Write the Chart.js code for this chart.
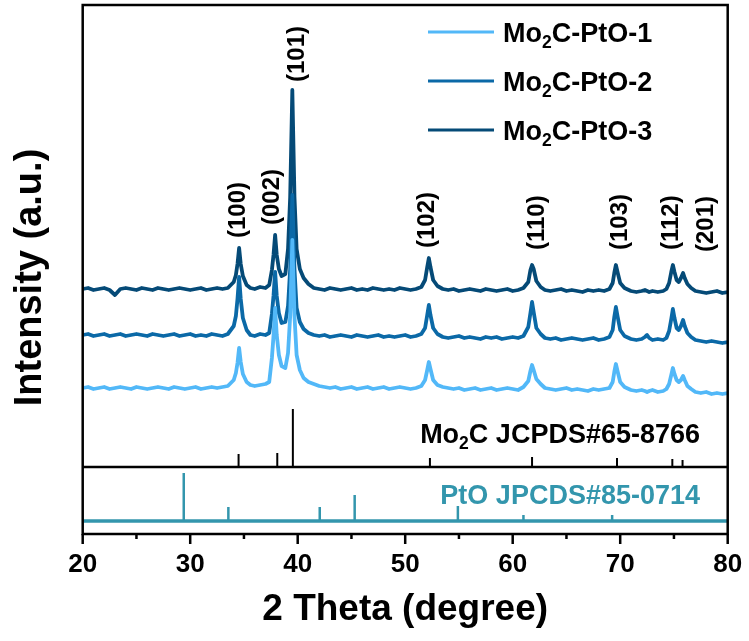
<!DOCTYPE html>
<html>
<head>
<meta charset="utf-8">
<title>XRD Mo2C-PtO</title>
<script src="https://cdn.jsdelivr.net/npm/chart.js@4.4.1/dist/chart.umd.min.js"></script>
<style>
  html, body { margin: 0; padding: 0; background: #fff; }
  canvas { display: block; }
</style>
</head>
<body>
<canvas id="xrdChart" width="749" height="641"></canvas>
<script>
// 2 theta grid shared by the three patterns
const twoTheta = [
  20, 20.5, 21, 21.5, 22, 22.5, 23, 23.5, 24, 24.5, 25, 25.5, 26, 26.5, 27, 27.5, 28, 28.5, 29, 29.5, 30, 30.5, 31, 31.5, 32, 32.5, 33, 33.5,
  34.05, 34.25, 34.4, 34.55, 34.7, 34.9, 35.25,
  35.6, 36, 36.5, 37, 37.35,
  37.6, 37.75, 37.9, 38.05, 38.25, 38.5, 38.85, 39.1, 39.3, 39.5, 39.7, 39.9, 40.2, 40.55, 41,
  41.5, 42, 42.5, 43, 43.5, 44, 44.5, 45, 45.5, 46, 46.5, 47, 47.5, 48, 48.5, 49, 49.5, 50, 50.5, 51, 51.5,
  51.85, 52.05, 52.2, 52.35, 52.6, 53,
  53.5, 54, 54.5, 55, 55.5, 56, 56.5, 57, 57.5, 58, 58.5, 59, 59.5, 60, 60.5, 61,
  61.45, 61.65, 61.8, 61.95, 62.2, 62.6,
  63, 63.5, 64, 64.5, 65, 65.5, 66, 66.5, 67, 67.5, 68, 68.5, 69,
  69.3, 69.45, 69.6, 69.75, 70, 70.4,
  71, 71.5, 72, 72.3, 72.5, 72.7, 73, 73.5, 74, 74.3,
  74.55, 74.75, 74.9, 75.05, 75.25, 75.45, 75.65, 75.85, 76, 76.25, 76.6,
  77, 77.5, 78, 78.5, 79, 79.5, 80
];

// intensities (a.u., already stacked)
const pto1 = [
  146, 147, 145, 146, 147, 145, 146, 147, 146, 145, 147, 146, 145, 146, 147, 146, 145, 147, 146, 145, 146, 147, 145, 146, 147, 146, 147, 148,
  154, 161, 171, 186, 172, 160, 152,
  149, 148, 149, 150, 152,
  176, 198, 226, 199, 179, 168, 166, 181, 218, 294, 218, 179, 164, 156, 152,
  150, 148, 147, 146, 147, 145, 146, 147, 145, 146, 147, 145, 146, 147, 145, 146, 147, 146, 145, 146, 148,
  154, 164, 172, 165, 154, 149,
  147, 146, 145, 146, 144, 145, 146, 144, 145, 146, 144, 145, 146, 145, 144, 147,
  153, 163, 169, 164, 155, 150,
  146, 145, 144, 145, 146, 144, 145, 144, 143, 145, 144, 145, 146,
  152, 162, 170, 163, 152, 147,
  144, 143, 144, 143, 142, 143, 144, 142, 143, 145,
  150, 159, 166, 160, 154, 152, 154, 158, 154, 148, 145,
  142, 141, 142, 140, 141, 140, 141
];
const pto2 = [
  199, 200, 198, 199, 200, 198, 199, 200, 198, 199, 200, 199, 198, 200, 199, 198, 199, 200, 198, 199, 200, 198, 199, 198, 200, 199, 198, 200,
  208, 218, 235, 257, 235, 216, 204,
  199, 198, 200, 199, 201,
  220, 238, 262, 238, 221, 211, 212, 228, 265, 339, 265, 226, 212, 205, 201,
  199, 198, 199, 197, 198, 199, 198, 197, 199, 198, 197, 198, 199, 197, 198, 197, 198, 199, 197, 198, 200,
  206, 219, 229, 219, 206, 200,
  197, 196, 197, 198, 196, 197, 196, 195, 197, 196, 197, 195, 196, 197, 196, 198,
  207, 221, 232, 222, 206, 200,
  196, 195, 196, 194, 195, 196, 195, 194, 195, 196, 194, 195, 197,
  204, 217, 227, 218, 204, 198,
  195, 194, 195, 197, 199, 196, 194, 195, 194, 196,
  203, 215, 225, 216, 206, 204, 208, 214, 208, 201, 197,
  194, 193, 192, 193, 192, 191, 192
];
const pto3 = [
  245, 246, 244, 245, 246, 244, 239, 245, 246, 245, 244, 246, 245, 244, 246, 245, 244, 245, 246, 245, 244, 245, 246, 244, 245, 246, 245, 246,
  252, 259, 270, 286, 270, 258, 249,
  246, 245, 247, 246, 249,
  264, 279, 299, 279, 265, 258, 260, 285, 337, 444, 337, 285, 265, 256, 250,
  246, 245, 244, 246, 245, 244, 245, 246, 244, 245, 244, 246, 245, 244, 245, 244, 246, 245, 244, 245, 247,
  254, 267, 276, 267, 254, 248,
  245, 244, 245, 243, 244, 245, 244, 243, 245, 244, 243, 244, 245, 243, 244, 246,
  252, 264, 269, 265, 253, 247,
  244, 243, 244, 245, 243, 244, 243, 242, 244, 243, 244, 243, 245,
  251, 261, 269, 262, 251, 246,
  243, 242, 243, 244, 243, 242, 243, 242, 243, 245,
  251, 262, 269, 262, 254, 252, 256, 261, 256, 250, 246,
  243, 242, 241, 242, 243, 241, 242
];

// reference cards
const mo2cPos = [34.5, 38.1, 39.55, 52.3, 61.8, 69.7, 74.85, 75.8];
const mo2cInt = [13, 14, 58, 9, 10, 9, 8, 7];
const ptoPos = [29.4, 33.55, 42.05, 45.3, 54.9, 61.0, 69.25];
const ptoInt = [48, 14, 14, 26, 15, 6, 6];
const mo2cBase = 67;
const ptoBase = 13;

// Miller indices
const hkl = ['(100)', '(002)', '(101)', '(102)', '(110)', '(103)', '(112)', '(201)'];
const hklX = [34.45, 37.6, 39.95, 52.1, 62.25, 70.05, 74.8, 78.05];
const hklY = [296, 309, 452, 286, 284, 284, 284, 282];

const xTicks = [20, 30, 40, 50, 60, 70, 80];

const FONT = "'Liberation Sans', Arial, sans-serif";
const colors = ['#52b8f8', '#0b69a7', '#054a77'];
const ptoColor = '#3396ad';
const legendParts = [
  [['Mo', false], ['2', true], ['C-PtO-1', false]],
  [['Mo', false], ['2', true], ['C-PtO-2', false]],
  [['Mo', false], ['2', true], ['C-PtO-3', false]]
];

const toPts = ys => twoTheta.map((x, i) => ({ x: x, y: ys[i] }));

function stickPts(pos, h, base) {
  const out = [];
  pos.forEach((x, i) => {
    out.push({ x: x, y: base }, { x: x, y: base + h[i] }, { x: x, y: null });
  });
  return out;
}

// text with subscripts
function drawRich(ctx, parts, x, y, size, align) {
  let w = 0;
  parts.forEach(p => {
    ctx.font = 'bold ' + (p[1] ? size * 0.65 : size) + 'px ' + FONT;
    w += ctx.measureText(p[0]).width;
  });
  let cx = align === 'right' ? x - w : x;
  parts.forEach(p => {
    ctx.font = 'bold ' + (p[1] ? size * 0.65 : size) + 'px ' + FONT;
    ctx.fillText(p[0], cx, p[1] ? y + size * 0.24 : y);
    cx += ctx.measureText(p[0]).width;
  });
}

const xrdDecor = {
  id: 'xrdDecor',
  afterDraw(chart) {
    const ctx = chart.ctx;
    const area = chart.chartArea;
    const xs = chart.scales.x;
    const ys = chart.scales.y;
    ctx.save();

    // frame + panel separator
    ctx.strokeStyle = '#000';
    ctx.lineWidth = 2.5;
    ctx.strokeRect(area.left, area.top, area.right - area.left, area.bottom - area.top);
    const sepY = ys.getPixelForValue(mo2cBase);
    ctx.beginPath();
    ctx.moveTo(area.left, sepY);
    ctx.lineTo(area.right, sepY);
    ctx.stroke();

    // outward ticks, minor every 5
    for (let v = 20; v <= 80; v += 5) {
      const px = xs.getPixelForValue(v);
      const len = v % 10 === 0 ? 10 : 5;
      ctx.beginPath();
      ctx.moveTo(px, area.bottom);
      ctx.lineTo(px, area.bottom + len);
      ctx.stroke();
    }

    // y title
    ctx.fillStyle = '#000';
    ctx.save();
    ctx.translate(area.left - 52, (area.top + area.bottom) / 2 + 8);
    ctx.rotate(-Math.PI / 2);
    ctx.textAlign = 'center';
    ctx.textBaseline = 'middle';
    ctx.font = 'bold 38px ' + FONT;
    ctx.fillText('Intensity (a.u.)', 0, 0);
    ctx.restore();

    // hkl labels
    ctx.font = 'bold 24px ' + FONT;
    hkl.forEach((t, i) => {
      ctx.save();
      ctx.translate(xs.getPixelForValue(hklX[i]), ys.getPixelForValue(hklY[i]));
      ctx.rotate(-Math.PI / 2);
      ctx.textAlign = 'left';
      ctx.textBaseline = 'middle';
      ctx.fillText(t, 0, 0);
      ctx.restore();
    });

    // legend
    ctx.textAlign = 'left';
    ctx.textBaseline = 'alphabetic';
    const rowY = [32, 81, 130];
    legendParts.forEach((parts, i) => {
      ctx.strokeStyle = colors[i];
      ctx.lineWidth = 3;
      ctx.beginPath();
      ctx.moveTo(428, rowY[i]);
      ctx.lineTo(494, rowY[i]);
      ctx.stroke();
      ctx.fillStyle = '#000';
      drawRich(ctx, parts, 503, rowY[i] + 10, 27, 'left');
    });

    // card labels
    ctx.fillStyle = '#000';
    drawRich(ctx, [['Mo', false], ['2', true], ['C JCPDS#65-8766', false]], 700, 443, 27, 'right');
    ctx.fillStyle = ptoColor;
    drawRich(ctx, [['PtO JPCDS#85-0714', false]], 700, 504, 27, 'right');

    ctx.restore();
  }
};

const lineStyle = { pointRadius: 0, borderWidth: 3.8, fill: false, tension: 0, borderJoinStyle: 'round' };

new Chart(document.getElementById('xrdChart'), {
  type: 'line',
  data: {
    datasets: [
      Object.assign({ label: 'Mo2C-PtO-1', data: toPts(pto1), borderColor: colors[0] }, lineStyle),
      Object.assign({ label: 'Mo2C-PtO-2', data: toPts(pto2), borderColor: colors[1] }, lineStyle),
      Object.assign({ label: 'Mo2C-PtO-3', data: toPts(pto3), borderColor: colors[2] }, lineStyle),
      { label: 'Mo2C card', data: stickPts(mo2cPos, mo2cInt, mo2cBase), borderColor: '#000', borderWidth: 2, pointRadius: 0, spanGaps: false },
      { label: 'PtO base', data: [{ x: 20, y: ptoBase }, { x: 80, y: ptoBase }], borderColor: ptoColor, borderWidth: 3.5, pointRadius: 0 },
      { label: 'PtO card', data: stickPts(ptoPos, ptoInt, ptoBase), borderColor: ptoColor, borderWidth: 2.5, pointRadius: 0, spanGaps: false }
    ]
  },
  options: {
    responsive: false,
    animation: false,
    events: [],
    layout: { padding: { top: 5, right: 21.3, left: 0, bottom: 0 } },
    plugins: { legend: { display: false }, tooltip: { enabled: false } },
    scales: {
      x: {
        type: 'linear',
        min: 20,
        max: 80,
        afterBuildTicks: s => { s.ticks = xTicks.map(v => ({ value: v })); },
        grid: { display: false, drawTicks: false },
        border: { display: false },
        ticks: { padding: 15, color: '#000', font: { family: FONT, size: 26, weight: 'bold' } },
        title: {
          display: true,
          text: '2 Theta (degree)',
          color: '#000',
          font: { family: FONT, size: 37, weight: 'bold' },
          padding: { top: 0, bottom: 9 }
        },
        afterFit: s => { s.height = 107; s.paddingLeft = 0; s.paddingRight = 0; }
      },
      y: {
        min: 0,
        max: 529,
        ticks: { display: false },
        grid: { display: false, drawTicks: false },
        border: { display: false },
        afterFit: s => { s.width = 82.7; }
      }
    }
  },
  plugins: [xrdDecor]
});
</script>
</body>
</html>
